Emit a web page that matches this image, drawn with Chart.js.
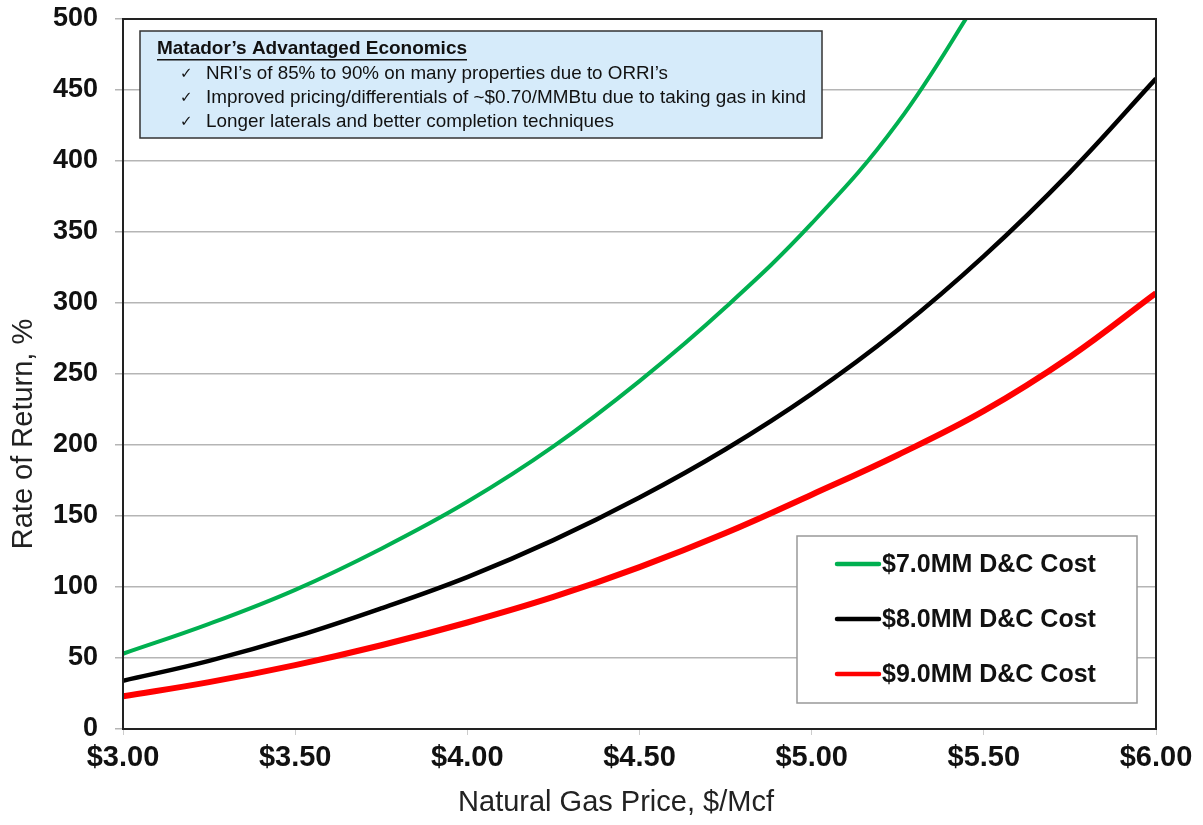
<!DOCTYPE html>
<html lang="en">
<head>
    <meta charset="UTF-8">
    <title>Rate of Return vs Natural Gas Price</title>
    <script src="https://cdn.jsdelivr.net/npm/chart.js"></script>
    <style>
        body { margin: 0; background: #fff; }
    </style>
</head>
<body>
<canvas id="rorChart" width="1203" height="825"></canvas>

<script>
// Gas price ($/Mcf) and rate of return (%)
var prices = [3.00, 3.25, 3.50, 3.75, 4.00, 4.25, 4.50, 4.75, 5.00, 5.25, 5.50, 5.75, 6.00];
var ror7mm = [53, 74, 98, 127, 160, 199, 245, 297, 356, 427, 520, null, null];
var ror8mm = [34, 48, 65, 85, 107, 133, 163, 197, 236, 281, 333, 392, 458];
var ror9mm = [23, 33, 45, 59, 75, 93, 114, 138, 165, 193, 224, 262, 307];

var seriesLabels = ['$7.0MM D&C Cost', '$8.0MM D&C Cost', '$9.0MM D&C Cost'];
var yTicks = [0, 50, 100, 150, 200, 250, 300, 350, 400, 450, 500];
var xTitle = 'Natural Gas Price, $/Mcf';
var yTitle = 'Rate of Return, %';

var boxTitle = 'Matador\u2019s Advantaged Economics';
var boxLines = [
    'NRI\u2019s of 85% to 90% on many properties due to ORRI\u2019s',
    'Improved pricing/differentials of ~$0.70/MMBtu due to taking gas in kind',
    'Longer laterals and better completion techniques'
];

var FONT = '"Liberation Sans", Arial, sans-serif';

function toPoints(values) {
    var pts = [];
    for (var i = 0; i < prices.length; i++) {
        if (values[i] !== null) pts.push({ x: prices[i], y: values[i] });
    }
    return pts;
}

// frame around the plot, axis titles, the blue text box and the legend box
var extrasPlugin = {
    id: 'extras',
    afterDatasetsDraw: function(chart) {
        var ctx = chart.ctx;
        var a = chart.chartArea;
        ctx.save();
        ctx.strokeStyle = '#222';
        ctx.lineWidth = 2;
        ctx.strokeRect(a.left, a.top, a.right - a.left, a.bottom - a.top);
        ctx.restore();
    },
    afterDraw: function(chart) {
        var ctx = chart.ctx;
        ctx.save();

        // axis titles
        ctx.fillStyle = '#222';
        ctx.textAlign = 'center';
        ctx.textBaseline = 'middle';
        ctx.font = '29px ' + FONT;
        ctx.fillText(xTitle, 616, 803);
        ctx.save();
        ctx.translate(24, 434);
        ctx.rotate(-Math.PI / 2);
        ctx.fillText(yTitle, 0, 0);
        ctx.restore();

        // text box
        ctx.fillStyle = 'rgb(214, 235, 250)';
        ctx.fillRect(140, 31, 682, 107);
        ctx.strokeStyle = '#333';
        ctx.lineWidth = 1.5;
        ctx.strokeRect(140, 31, 682, 107);

        ctx.fillStyle = '#111';
        ctx.textAlign = 'left';
        ctx.font = 'bold 19px ' + FONT;
        ctx.fillText(boxTitle, 157, 49, 310);
        ctx.fillRect(157, 59, 310, 1.5);

        var widths = [462, 600, 408];
        for (var i = 0; i < boxLines.length; i++) {
            var y = 74 + i * 24;
            ctx.font = '15px "DejaVu Sans", sans-serif';
            ctx.fillText('\u2713', 180, y);
            ctx.font = '19px ' + FONT;
            ctx.fillText(boxLines[i], 206, y, widths[i]);
        }

        // legend
        ctx.fillStyle = '#fff';
        ctx.fillRect(797, 536, 340, 167);
        ctx.strokeStyle = '#999';
        ctx.lineWidth = 1.5;
        ctx.strokeRect(797, 536, 340, 167);

        ctx.font = 'bold 25px ' + FONT;
        chart.data.datasets.forEach(function(ds, k) {
            var ly = 564 + k * 55;
            ctx.strokeStyle = ds.borderColor;
            ctx.lineWidth = 4.5;
            ctx.lineCap = 'round';
            ctx.beginPath();
            ctx.moveTo(837, ly);
            ctx.lineTo(879, ly);
            ctx.stroke();
            ctx.fillStyle = '#111';
            ctx.fillText(ds.label, 882, ly + 1);
        });
        ctx.restore();
    }
};

var ctx = document.getElementById('rorChart').getContext('2d');
var rorChart = new Chart(ctx, {
    type: 'line',
    data: {
        datasets: [
            { label: seriesLabels[0], data: toPoints(ror7mm), borderColor: 'rgb(0, 176, 80)', borderWidth: 4 },
            { label: seriesLabels[1], data: toPoints(ror8mm), borderColor: '#000', borderWidth: 4.5 },
            { label: seriesLabels[2], data: toPoints(ror9mm), borderColor: 'rgb(255, 0, 0)', borderWidth: 6 }
        ]
    },
    options: {
        responsive: false,
        animation: false,
        devicePixelRatio: 1,
        elements: {
            point: { radius: 0 },
            line: { tension: 0.4, fill: false }
        },
        layout: { padding: { left: 0, right: 47, top: 19, bottom: 0 } },
        plugins: {
            legend: { display: false },
            tooltip: { enabled: false }
        },
        scales: {
            x: {
                type: 'linear',
                min: 3,
                max: 6,
                afterFit: function(scale) {
                    scale.height = 96;
                    scale.paddingLeft = 0;
                    scale.paddingRight = 0;
                },
                ticks: {
                    stepSize: 0.5,
                    padding: 6,
                    color: '#111',
                    font: { family: FONT, size: 29, weight: 'bold' },
                    callback: function(v) { return '$' + v.toFixed(2); }
                },
                grid: { drawOnChartArea: false, tickLength: 6, color: '#ccc' },
                border: { color: '#222', width: 2 }
            },
            y: {
                min: 0,
                max: 500,
                afterFit: function(scale) {
                    scale.width = 123;
                    scale.paddingTop = 0;
                    scale.paddingBottom = 0;
                },
                afterBuildTicks: function(scale) {
                    scale.ticks = yTicks.map(function(v) { return { value: v }; });
                },
                ticks: {
                    padding: 17,
                    color: '#111',
                    font: { family: FONT, size: 27, weight: 'bold' }
                },
                grid: { color: '#b5b5b5', lineWidth: 1.5, tickLength: 8 },
                border: { color: '#222', width: 2 }
            }
        }
    },
    plugins: [extrasPlugin]
});
</script>
</body>
</html>
